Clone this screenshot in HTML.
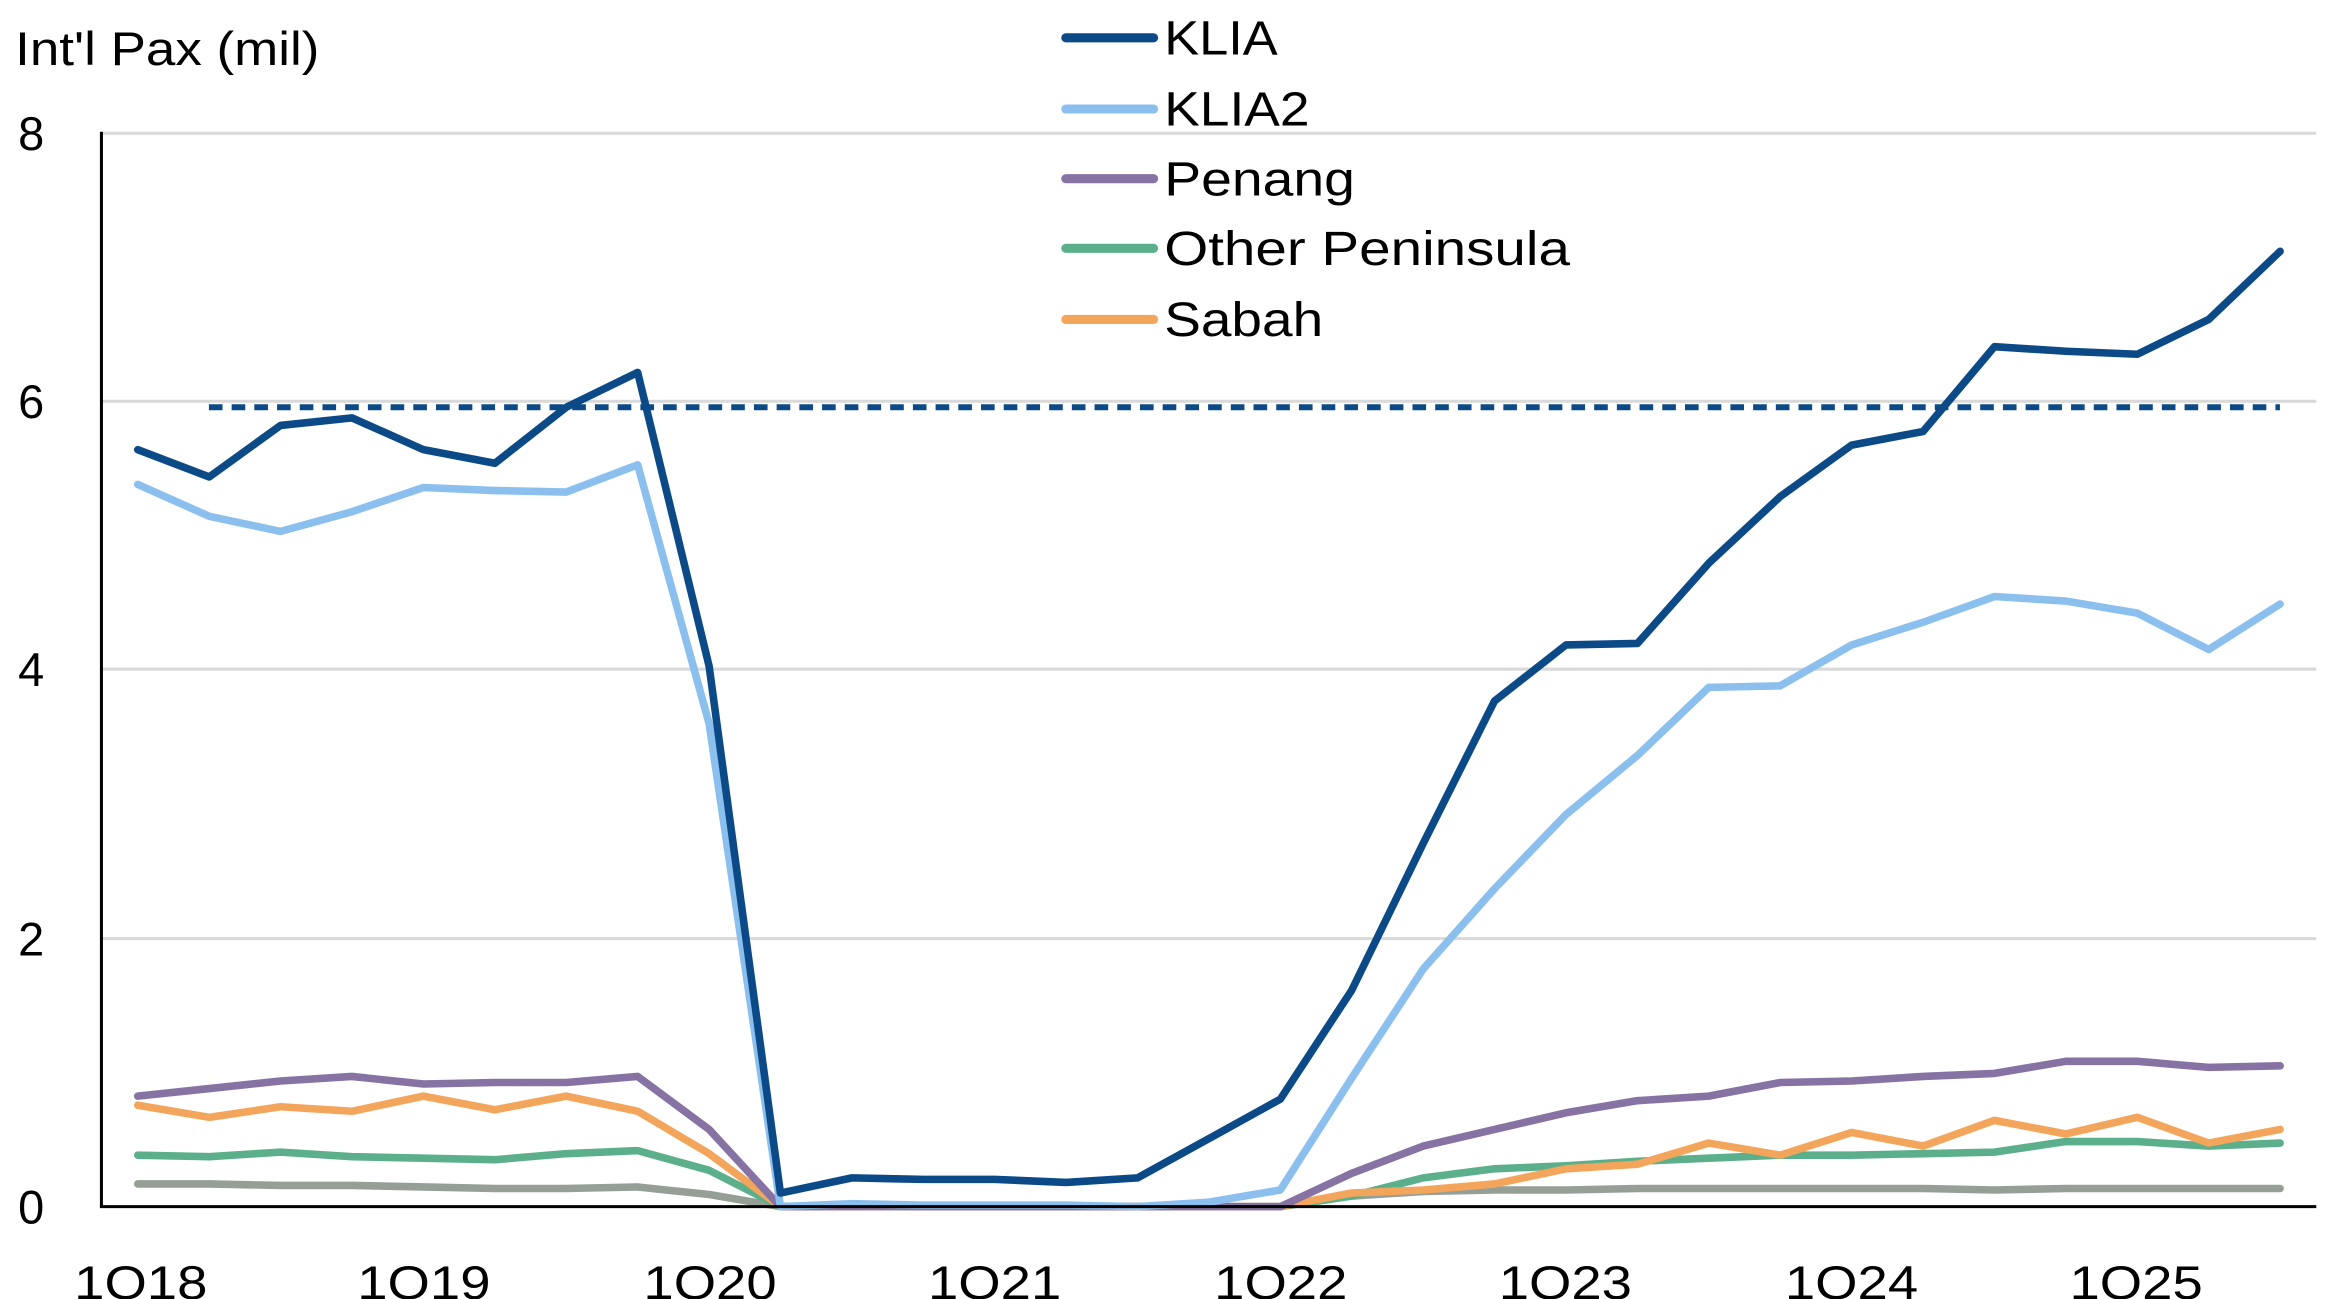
<!DOCTYPE html>
<html><head><meta charset="utf-8"><style>
html,body{margin:0;padding:0;background:#fff;}
svg{display:block;}
text{font-family:"Liberation Sans",sans-serif;fill:#000;}
</style></head><body>
<svg id="c" width="2339" height="1299" viewBox="0 0 1545 858" preserveAspectRatio="none" xmlns="http://www.w3.org/2000/svg">
<rect width="1545" height="858" fill="#fff"/>
<g stroke="#d9d9d9" stroke-width="2">
<line x1="67" y1="88" x2="1530" y2="88"/>
<line x1="67" y1="265" x2="1530" y2="265"/>
<line x1="67" y1="442" x2="1530" y2="442"/>
<line x1="67" y1="620" x2="1530" y2="620"/>
</g>
<g font-size="31">
<text x="10" y="43" textLength="201" lengthAdjust="spacingAndGlyphs">Int'l Pax (mil)</text>
<text x="12" y="99">8</text>
<text x="12" y="276">6</text>
<text x="12" y="453">4</text>
<text x="12" y="631">2</text>
<text x="12" y="808">0</text>
</g>
<g font-size="31">
<text x="49" y="858" textLength="88" lengthAdjust="spacingAndGlyphs">1Q18</text>
<text x="236" y="858" textLength="88" lengthAdjust="spacingAndGlyphs">1Q19</text>
<text x="425" y="858" textLength="88" lengthAdjust="spacingAndGlyphs">1Q20</text>
<text x="613" y="858" textLength="88" lengthAdjust="spacingAndGlyphs">1Q21</text>
<text x="802" y="858" textLength="88" lengthAdjust="spacingAndGlyphs">1Q22</text>
<text x="990" y="858" textLength="88" lengthAdjust="spacingAndGlyphs">1Q23</text>
<text x="1179" y="858" textLength="88" lengthAdjust="spacingAndGlyphs">1Q24</text>
<text x="1367" y="858" textLength="88" lengthAdjust="spacingAndGlyphs">1Q25</text>
</g>
<line x1="138" y1="269" x2="1506" y2="269" stroke="#0b4a86" stroke-width="4" stroke-dasharray="9,6"/>
<g id="series" fill="none" stroke-width="5" stroke-linejoin="round" stroke-linecap="round"></g>
<line x1="67" y1="87" x2="67" y2="797" stroke="#000" stroke-width="2"/>
<line x1="66" y1="797" x2="1530" y2="797" stroke="#000" stroke-width="2"/>
<g stroke-width="6" stroke-linecap="round">
<line x1="704" y1="25" x2="762" y2="25" stroke="#0b4a86"/>
<line x1="704" y1="72" x2="762" y2="72" stroke="#8bbfee"/>
<line x1="704" y1="118" x2="762" y2="118" stroke="#8672a3"/>
<line x1="704" y1="164" x2="762" y2="164" stroke="#5caf8b"/>
<line x1="704" y1="211" x2="762" y2="211" stroke="#f3a55c"/>
</g>
<g font-size="32">
<text x="769" y="36" textLength="75" lengthAdjust="spacingAndGlyphs">KLIA</text>
<text x="769" y="83" textLength="96" lengthAdjust="spacingAndGlyphs">KLIA2</text>
<text x="769" y="129" textLength="126" lengthAdjust="spacingAndGlyphs">Penang</text>
<text x="769" y="175" textLength="268" lengthAdjust="spacingAndGlyphs">Other  Peninsula</text>
<text x="769" y="222" textLength="105" lengthAdjust="spacingAndGlyphs">Sabah</text>
</g>
</svg>
<script>
var Z=[797,797,797,797,797,797,797,797];
var S=[
["#959f96",[782,782,783,783,784,785,785,784,789].concat(Z,[790,787,786,786,785,785,785,785,785,786,785,785,785,785])],
["#5caf8b",[763,764,761,764,765,766,762,760,773].concat(Z,[790,778,772,770,767,765,763,763,762,761,754,754,757,755])],
["#f3a55c",[730,738,731,734,724,733,724,734,762].concat(Z,[788,786,782,772,769,755,763,748,757,740,749,738,755,746])],
["#8672a3",[724,719,714,711,716,715,715,711,746].concat(Z,[775,757,746,735,727,724,715,714,711,709,701,701,705,704])],
["#8bbfee",[320,341,351,338,322,324,325,307,478,797,795,796,796,796,797,794,786,712,640,587,538,499,454,453,426,411,394,397,405,429,399]],
["#0b4a86",[297,315,281,276,297,306,269,246,440,788,778,779,779,781,778,752,726,654,557,463,426,425,372,328,294,285,229,232,234,211,166]]
];
var g=document.getElementById('series');
S.forEach(function(s){
 var p=s[1].map(function(y,i){return (91+47.17*i).toFixed(1)+','+y;}).join(' ');
 var e=document.createElementNS('http://www.w3.org/2000/svg','polyline');
 e.setAttribute('points',p);e.setAttribute('stroke',s[0]);g.appendChild(e);
});
</script>
</body></html>
